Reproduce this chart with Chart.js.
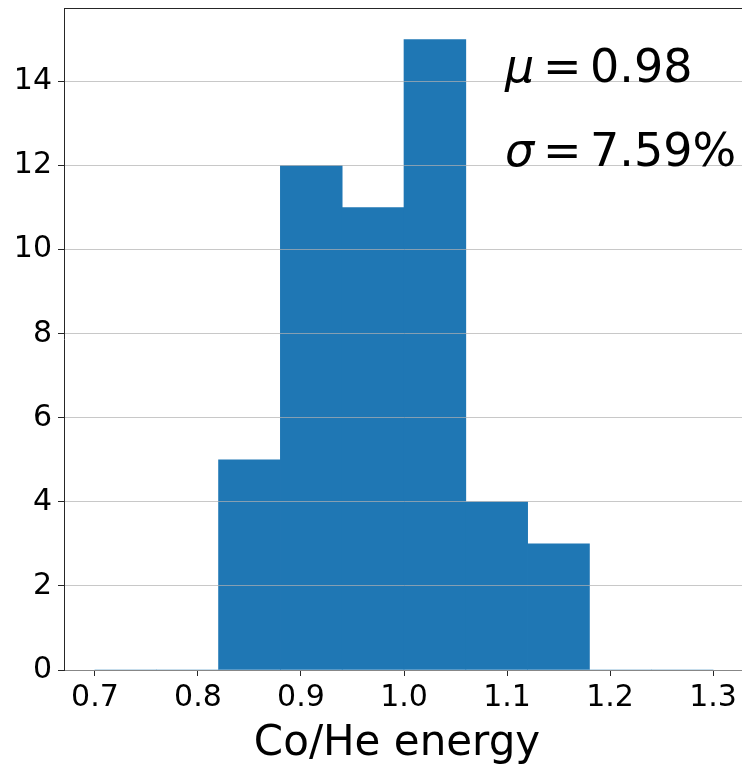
<!DOCTYPE html>
<html>
<head>
<meta charset="utf-8">
<script src="https://cdn.jsdelivr.net/npm/chart.js@4/dist/chart.umd.min.js"></script>
<style>
  html, body { margin: 0; padding: 0; background: #fff; overflow: hidden; }
  #wrap { position: absolute; left: 0; top: 0; width: 760px; height: 765px; }
  canvas { display: block; }
</style>
</head>
<body>
<div id="wrap"><canvas id="c" width="760" height="765"></canvas></div>
<script>
// Histogram of Co/He energy ratios: bin edges and counts per bin
const binEdges = [0.70, 0.76, 0.82, 0.88, 0.94, 1.00, 1.06, 1.12, 1.18, 1.24, 1.30];
const counts   = [0, 0, 5, 12, 11, 15, 4, 3, 0, 0];
const xTicks   = [0.7, 0.8, 0.9, 1.0, 1.1, 1.2, 1.3];
const yTicks   = [0, 2, 4, 6, 8, 10, 12, 14];
const meanValue  = 0.98;
const sigmaPct   = 7.59;
const xAxisLabel = 'Co/He energy';

const FONT = "'DejaVu Sans', sans-serif";

// bar centres derived from the bin edges
const histData = counts.map((c, i) => ({ x: (binEdges[i] + binEdges[i + 1]) / 2, y: c }));

const xSpan = binEdges[binEdges.length - 1] - binEdges[0];
const xMin = binEdges[0] - 0.05 * xSpan;
const xMax = binEdges[binEdges.length - 1] + 0.05 * xSpan;
const yMax = Math.max(...counts) * 1.05;

const textPlugin = {
  id: 'histText',
  afterDraw(chart) {
    const ctx = chart.ctx;
    const area = chart.chartArea;
    const xs = chart.scales.x, ys = chart.scales.y;
    ctx.save();
    // top frame line
    ctx.strokeStyle = '#262626';
    ctx.lineWidth = 1;
    ctx.beginPath();
    ctx.moveTo(area.left, Math.round(area.top) + 0.5);
    ctx.lineTo(area.right, Math.round(area.top) + 0.5);
    ctx.stroke();

    // statistics annotations anchored in data coordinates
    ctx.fillStyle = '#000';
    ctx.textBaseline = 'alphabetic';
    ctx.textAlign = 'left';
    const fs = 46;
    const drawStat = (sym, val, yv) => {
      const x0 = xs.getPixelForValue(1.1);
      const y0 = ys.getPixelForValue(yv);
      ctx.font = `oblique ${fs}px ${FONT}`;
      ctx.fillText(sym, x0 - 2, y0);
      ctx.font = `${fs}px ${FONT}`;
      ctx.fillText('=', x0 + 36, y0);
      ctx.fillText(val, x0 + 83, y0);
    };
    drawStat('μ', meanValue.toFixed(2), 14);
    drawStat('σ', sigmaPct.toFixed(2) + '%', 12);

    // x axis title
    ctx.font = `42px ${FONT}`;
    ctx.textAlign = 'center';
    ctx.fillText(xAxisLabel, 397, 755);
    ctx.restore();
  }
};

new Chart(document.getElementById('c'), {
  type: 'bar',
  data: {
    datasets: [{
      data: histData,
      backgroundColor: '#1f77b4',
      borderWidth: 0,
      barPercentage: 1.0,
      categoryPercentage: 1.0
    }]
  },
  options: {
    responsive: false,
    animation: false,
    devicePixelRatio: 1,
    layout: { padding: { top: 8, right: 16, left: 0, bottom: 0 } },
    plugins: { legend: { display: false }, tooltip: { enabled: false } },
    scales: {
      x: {
        type: 'linear',
        min: xMin,
        max: xMax,
        offset: false,
        afterFit(scale) {
          scale.height = 95;
          scale.paddingLeft = 0;
          scale.paddingRight = 0;
        },
        afterBuildTicks(scale) { scale.ticks = xTicks.map(v => ({ value: v })); },
        ticks: {
          color: '#000',
          font: { family: FONT, size: 30 },
          padding: 4,
          maxRotation: 0,
          autoSkip: false,
          callback: v => Number(v).toFixed(1)
        },
        grid: {
          offset: false,
          drawOnChartArea: false,
          drawTicks: true,
          tickLength: 6,
          tickColor: '#262626'
        },
        border: { display: true, color: '#262626', width: 1 }
      },
      y: {
        min: 0,
        max: yMax,
        afterFit(scale) {
          scale.width = 64;
          scale.paddingTop = 0;
          scale.paddingBottom = 0;
        },
        afterBuildTicks(scale) { scale.ticks = yTicks.map(v => ({ value: v })); },
        ticks: {
          color: '#000',
          font: { family: FONT, size: 30 },
          padding: 6,
          autoSkip: false,
          callback: v => String(v)
        },
        grid: {
          z: 1,
          color: 'rgba(176,176,176,0.7)',
          lineWidth: 1,
          drawTicks: true,
          tickLength: 6,
          tickColor: '#262626'
        },
        border: { display: true, color: '#262626', width: 1, z: 2 }
      }
    }
  },
  plugins: [textPlugin]
});
</script>
</body>
</html>
